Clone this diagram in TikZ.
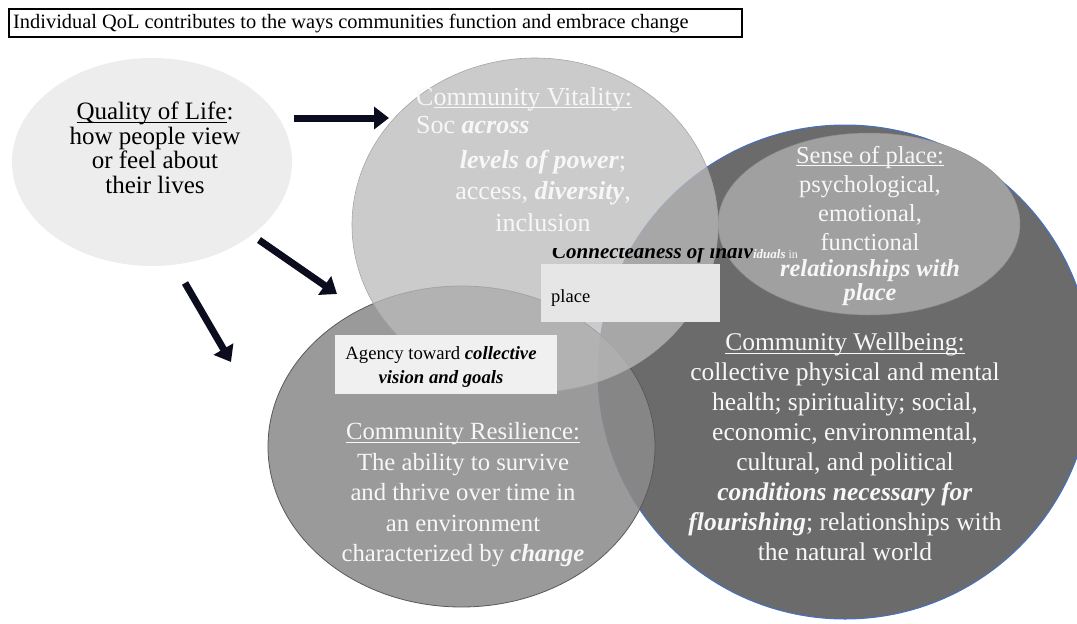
\documentclass[tikz,border=0pt]{standalone}
\usepackage{fontspec}
\setmainfont{Liberation Serif}
\usetikzlibrary{arrows.meta,shapes.geometric}
\definecolor{qolgray}{HTML}{EDEDED}
\definecolor{vitgray}{HTML}{BBBBBB}
\definecolor{resgray}{HTML}{8B8B8B}
\definecolor{wellgray}{HTML}{6B6B6B}
\definecolor{sopgray}{HTML}{A0A0A0}
\definecolor{edgeblue}{HTML}{4472C4}
\definecolor{arrowink}{HTML}{0B0C1E}
\definecolor{softwhite}{HTML}{F7F7F7}
\definecolor{placebg}{HTML}{E6E6E6}
\definecolor{agencybg}{HTML}{F0F0F0}
\newlength\ulw
\newcommand\ulx[1]{\settowidth\ulw{#1}\rlap{\rule[-0.13em]{\ulw}{0.055em}}#1}
\newcommand\bi[1]{\textbf{\textit{#1}}}
\begin{document}
\begin{tikzpicture}[x=1pt,y=-1pt,
  blob/.style={ellipse, inner sep=0pt, outer sep=0pt},
  fatarrow/.style={draw=arrowink, line width=7pt, -{Triangle[length=15pt,width=22pt]}},
  label/.style={inner sep=0pt, text=softwhite},
  darklabel/.style={inner sep=0pt, text=black},
  plainbox/.style={anchor=north west, inner sep=0pt, draw=none}]
\useasboundingbox (0,0) rectangle (1077,624);
\clip (0,0) rectangle (1077,624);

% title box
\node[plainbox, draw=black, line width=1.6pt, minimum width=733pt, minimum height=28pt] (titlebox) at (8,8) {};
\node[darklabel, anchor=base west, font=\fontsize{20.4}{20.4}\selectfont] (title) at (13,28) {Individual QoL contributes to the ways communities function and embrace change};

% shapes
\node[blob, fill=qolgray, minimum width=280pt, minimum height=208pt] (qol) at (152,162) {};
\node[blob, fill=wellgray, draw=edgeblue, line width=1pt, minimum width=494pt, minimum height=494pt] (well) at (845,372) {};
\node[blob, fill=sopgray, draw=black!45, line width=0.5pt, minimum width=302pt, minimum height=182pt] (sop) at (869,224) {};
\node[blob, fill=resgray, fill opacity=0.87, draw=black!65, line width=0.8pt, minimum width=387pt, minimum height=321pt] (res) at (461.5,446.5) {};
\node[blob, fill=vitgray, fill opacity=0.76, draw=black!35, line width=0.6pt, minimum width=366pt, minimum height=334pt] (vit) at (535,225) {};

% boxes
\node[plainbox, fill=placebg, minimum width=179pt, minimum height=58pt] (placebox) at (541,264) {};
\node[plainbox, fill=agencybg, minimum width=222pt, minimum height=59pt] (agencybox) at (335,335) {};

% arrows
\coordinate (a1s) at (294,118);
\coordinate (a1e) at (389,118);
\coordinate (a2s) at (259,240);
\coordinate (a2e) at (337,294);
\coordinate (a3s) at (185,283);
\coordinate (a3e) at (231,362);
\draw[fatarrow] (a1s) -- (a1e);
\draw[fatarrow] (a2s) -- (a2e);
\draw[fatarrow] (a3s) -- (a3e);

% texts
\node[darklabel, align=center, font=\fontsize{25}{24.5}\selectfont] (qoltext) at (155,148)
  {\ulx{Quality of Life}:\\how people view\\or feel about\\their lives};

\node[label, anchor=base west, font=\fontsize{26}{30}\selectfont] (vittitle) at (416,105) {C\ulx{ommunity Vitality:}};
\node[label, anchor=base west, font=\fontsize{26}{30}\selectfont] (vitsoc) at (416,133) {Soc \bi{across}};
\node[label, align=center, font=\fontsize{26}{31.5}\selectfont] (vittext) at (543,190.5)
  {\bi{levels of power};\\access, \bi{diversity},\\inclusion};

\node[label, align=center, font=\fontsize{24.4}{29}\selectfont, anchor=base] (soptext) at (870,250)
  {\ulx{Sense of place:}\\psychological,\\emotional,\\functional};
\node[label, align=center, font=\fontsize{24.4}{23.5}\selectfont, anchor=base] (soprel) at (870,300)
  {\bi{relationships with}\\\bi{place}};

\node[label, align=center, font=\fontsize{25.5}{30}\selectfont] (welltext) at (845,447)
  {\ulx{Community Wellbeing:}\\collective physical and mental\\health; spirituality; social,\\economic, environmental,\\cultural, and political\\\bi{conditions necessary for}\\\bi{flourishing}; relationships with\\the natural world};

\node[label, align=center, font=\fontsize{24.7}{30.5}\selectfont] (restext) at (463,495)
  {\ulx{Community Resilience:}\\The ability to survive\\and thrive over time in\\an environment\\characterized by \bi{change}};

\node[darklabel, align=center, font=\fontsize{18.7}{24}\selectfont] (agencytext) at (441,366.5)
  {Agency toward \bi{collective}\\\bi{vision and goals}};

\node[darklabel, anchor=base west, font=\fontsize{18.5}{18.5}\selectfont] (placetext) at (551,302) {place};

\begin{scope}
  \clip (540,248.5) rectangle (830,264);
  \node[darklabel, anchor=base west, text depth=1.5pt, font=\fontsize{21}{21}\selectfont] (conn) at (552,258)
    {\bi{Connectedness of indiv}\textcolor{softwhite}{\fontsize{13}{13}\selectfont\bi{iduals}\fontsize{12}{12}\selectfont\ in}};
\end{scope}
\end{tikzpicture}
\end{document}
